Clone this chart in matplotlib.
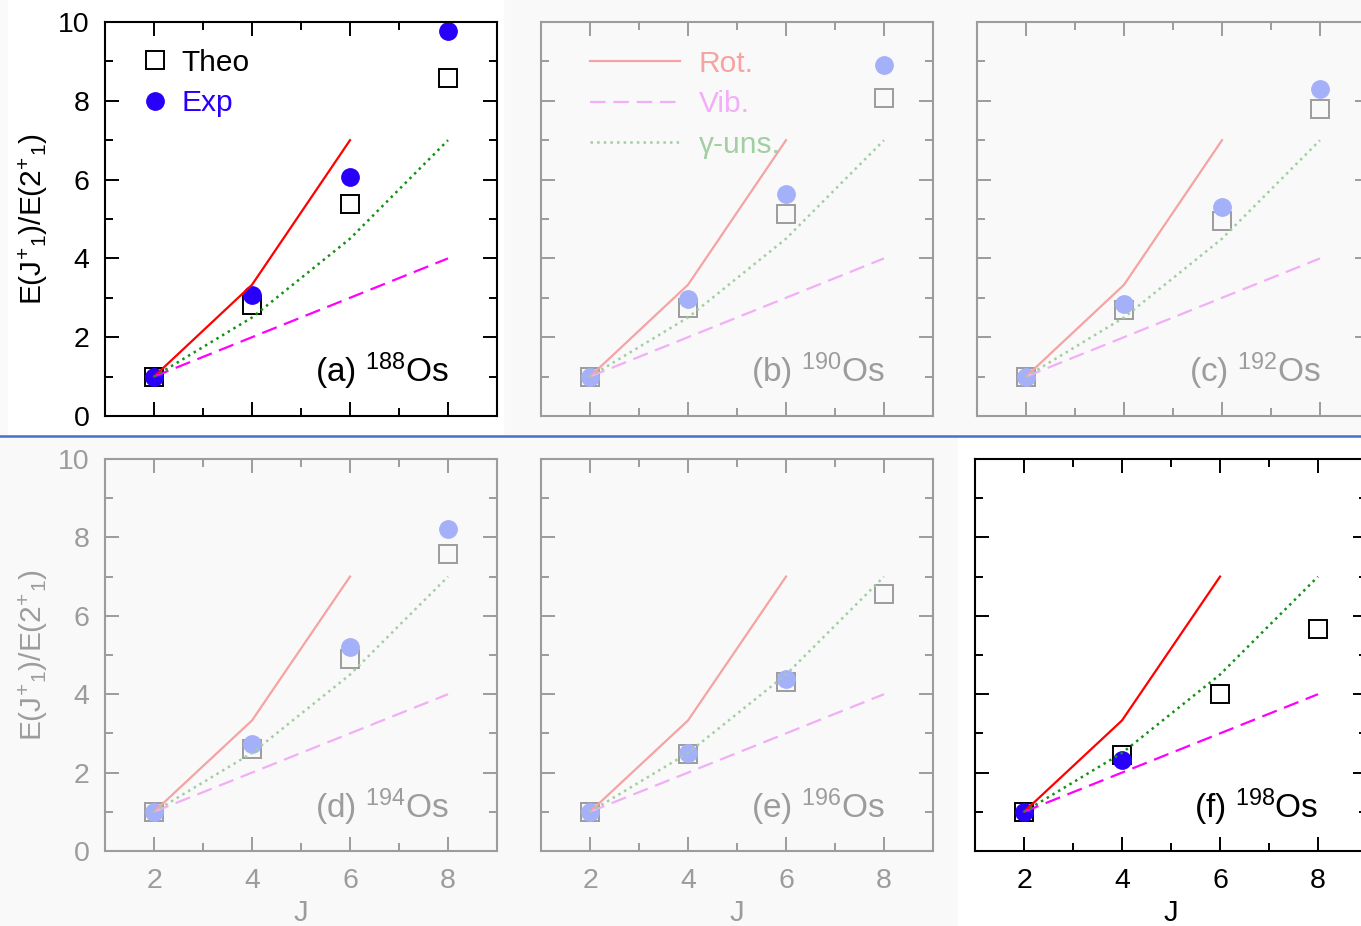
import matplotlib
matplotlib.use('Agg')
import matplotlib.pyplot as plt
from matplotlib.ticker import MultipleLocator
from matplotlib.patches import Rectangle
from matplotlib.lines import Line2D

plt.rcParams['font.family'] = ['Liberation Sans', 'DejaVu Sans']
plt.rcParams['mathtext.fontset'] = 'custom'
plt.rcParams['mathtext.rm'] = 'Liberation Sans'
plt.rcParams['mathtext.it'] = 'Liberation Sans:italic'
plt.rcParams['mathtext.bf'] = 'Liberation Sans:bold'

# spin values and limiting-case ratios E(J)/E(2)
J = [2, 4, 6, 8]
J_rot = [2, 4, 6]
rot = [1.0, 3.33, 7.0]
vib = [1.0, 2.0, 3.0, 4.0]
gam = [1.0, 2.5, 4.5, 7.0]

# ground-band ratios per isotope (theory / experiment)
theo_188 = [1.0, 2.82, 5.38, 8.58]
exp_188 = [1.0, 3.07, 6.07, 9.78]
theo_190 = [1.0, 2.73, 5.13, 8.06]
exp_190 = [1.0, 2.96, 5.63, 8.91]
theo_192 = [1.0, 2.69, 4.96, 7.79]
exp_192 = [1.0, 2.84, 5.30, 8.29]
theo_194 = [1.0, 2.61, 4.89, 7.58]
exp_194 = [1.0, 2.74, 5.20, 8.21]
theo_196 = [1.0, 2.47, 4.31, 6.56]
exp_196 = [1.0, 2.49, 4.40]
theo_198 = [1.0, 2.44, 4.00, 5.66]
exp_198 = [1.0, 2.32]

panels = [
    ('a', '188', theo_188, exp_188),
    ('b', '190', theo_190, exp_190),
    ('c', '192', theo_192, exp_192),
    ('d', '194', theo_194, exp_194),
    ('e', '196', theo_196, exp_196),
    ('f', '198', theo_198, exp_198),
]
highlight = ['a', 'f']

BG = '#f9f9f9'
full = {'k': 'black', 'rot': '#ff0000', 'vib': '#ff00ff', 'gam': '#129112', 'exp': '#2800fa'}
dim = {'k': '#9c9c9c', 'rot': '#f5a3a3', 'vib': '#f2aef6', 'gam': '#a2cea2', 'exp': '#a4b0f8'}

W, H = 1361, 926
fig = plt.figure(figsize=(W / 100, H / 100), dpi=100, facecolor=BG)

# white backing behind the two emphasised panels
fig.patches.append(Rectangle((8 / W, (H - 435) / H), 495 / W, 435 / H,
                             transform=fig.transFigure, color='white', zorder=-5))
fig.patches.append(Rectangle((958 / W, 0), 403 / W, 488 / H,
                             transform=fig.transFigure, color='white', zorder=-5))
fig.lines.append(Line2D([0, 1], [(H - 436) / H] * 2, transform=fig.transFigure,
                        color='#4472c4', lw=1.8))

lefts = [105, 541, 977, 105, 541, 975]
aw = 392

for i, (tag, mass, theo, exp) in enumerate(panels):
    top_row = i < 3
    if top_row:
        y0, y1 = 22, 416
    else:
        y0, y1 = 459, 851
    ax = fig.add_axes([lefts[i] / W, (H - y1) / H, aw / W, (y1 - y0) / H])
    on = tag in highlight
    c = full if on else dim
    ax.set_facecolor('white' if on else 'none')

    ax.plot(J, theo, 's', ms=13, mfc='none', mec=c['k'], mew=1.4, zorder=2, label='Theo')
    ax.plot(J[:len(exp)], exp, 'o', ms=12.5, color=c['exp'], zorder=2.5, label='Exp')
    l_rot, = ax.plot(J_rot, rot, '-', color=c['rot'], lw=1.6, zorder=3, label='Rot.')
    l_vib, = ax.plot(J, vib, color=c['vib'], lw=1.6, dashes=(7, 3.5), zorder=3, label='Vib.')
    l_gam, = ax.plot(J, gam, ':', color=c['gam'], lw=1.8, zorder=3, label='γ-uns.')

    ax.set_xlim(1, 9)
    ax.set_ylim(0, 10)
    ax.xaxis.set_major_locator(MultipleLocator(2))
    ax.xaxis.set_minor_locator(MultipleLocator(1))
    ax.yaxis.set_major_locator(MultipleLocator(2))
    ax.yaxis.set_minor_locator(MultipleLocator(1))
    ax.tick_params(which='both', direction='in', top=True, right=True,
                   color=c['k'], labelcolor=c['k'], labelsize=20.5)
    ax.tick_params(which='major', length=10, width=1.4)
    ax.tick_params(which='minor', length=6, width=1.4)
    ax.tick_params(axis='y', pad=11)
    ax.tick_params(axis='x', pad=12)
    for s in ax.spines.values():
        s.set_color(c['k'])
        s.set_linewidth(1.5)

    if i % 3 != 0:
        ax.set_yticklabels([])
    else:
        ax.set_ylabel(r'E(J$^{+}$$_{1}$)/E(2$^{+}$$_{1}$)', fontsize=21.5,
                      color=c['k'], labelpad=6)
    if top_row:
        ax.set_xticklabels([])
    else:
        ax.set_xlabel('J', fontsize=21, color=c['k'], labelpad=4)

    ax.text(0.877, 0.085, '(%s) $^{%s}$Os' % (tag, mass), transform=ax.transAxes,
            ha='right', va='baseline', fontsize=24, color=c['k'])

    if tag == 'a':
        leg = ax.legend(handles=ax.lines[:2], loc='upper left', bbox_to_anchor=(0.089, 0.932),
                        frameon=False, fontsize=21.5, handlelength=1.0, handletextpad=0.4,
                        labelspacing=0.42, borderpad=0, borderaxespad=0)
        for t, col in zip(leg.get_texts(), ['black', full['exp']]):
            t.set_color(col)
    if tag == 'b':
        leg = ax.legend(handles=[l_rot, l_vib, l_gam], loc='upper left',
                        bbox_to_anchor=(0.125, 0.93), frameon=False, fontsize=21.5,
                        handlelength=3.0, handletextpad=0.65, labelspacing=0.42,
                        borderpad=0, borderaxespad=0)
        for t, key in zip(leg.get_texts(), ['rot', 'vib', 'gam']):
            t.set_color(dim[key])

fig.savefig('out.png', dpi=100, facecolor=fig.get_facecolor())
